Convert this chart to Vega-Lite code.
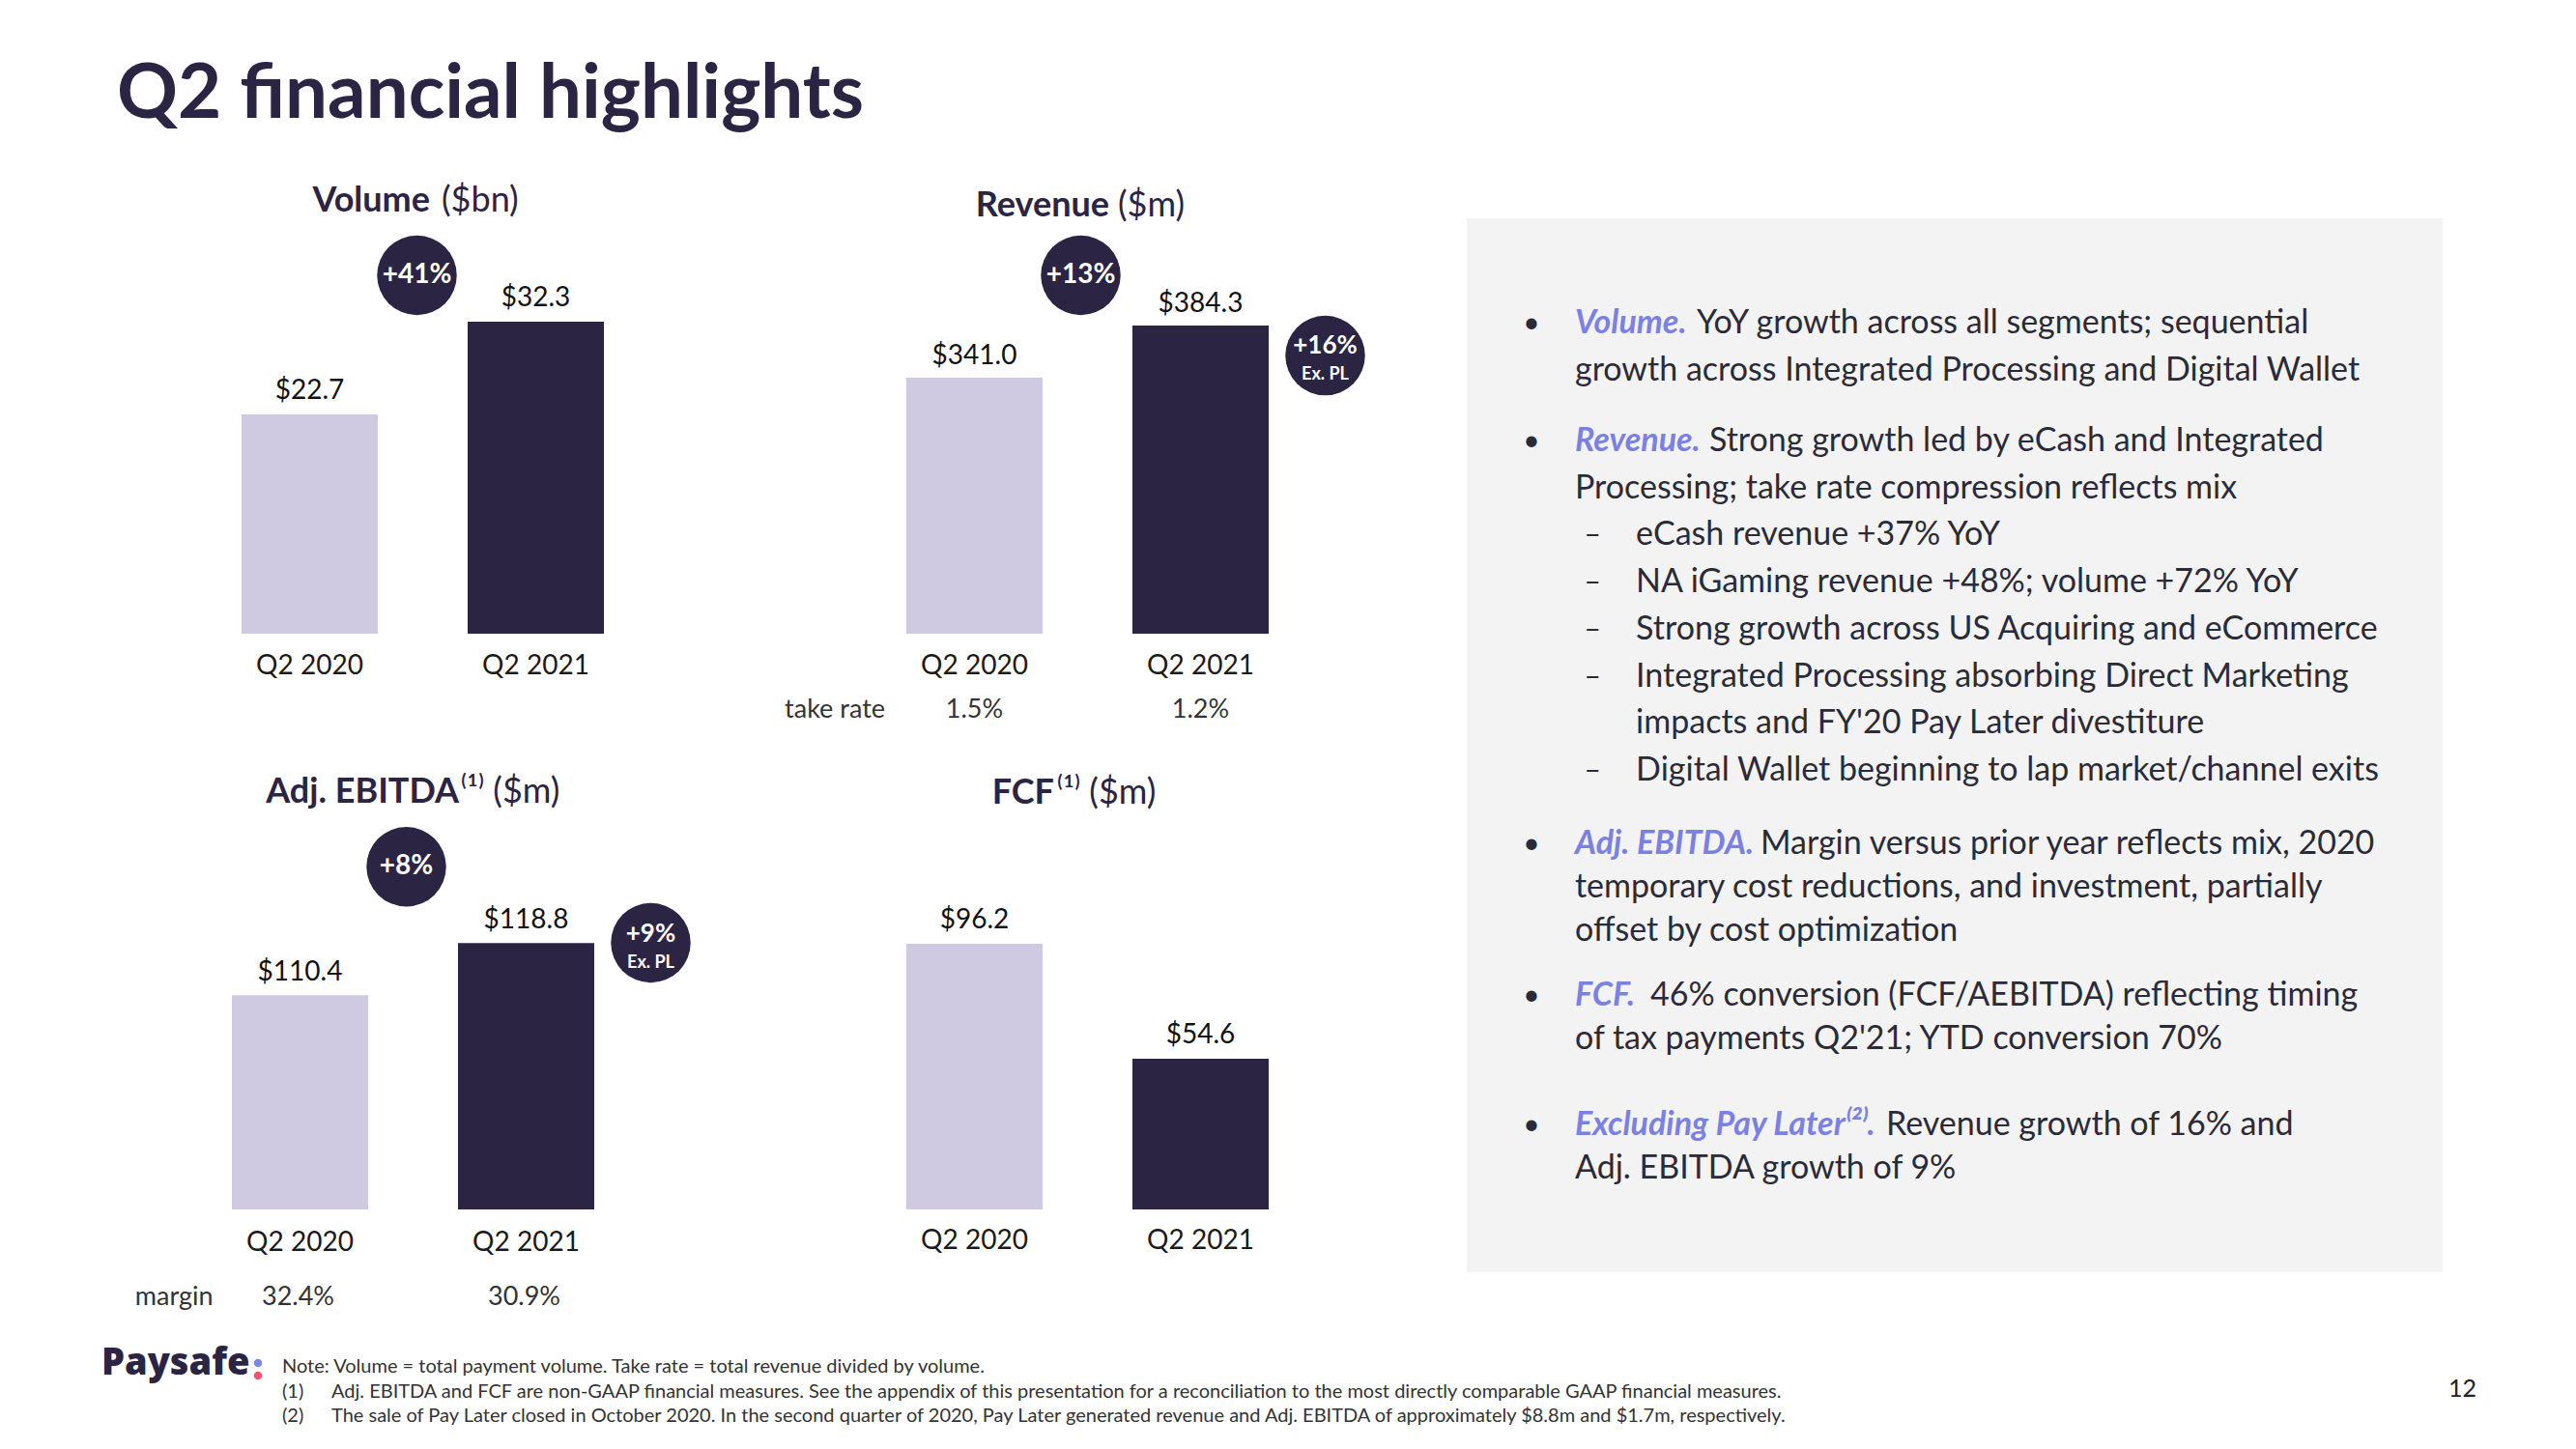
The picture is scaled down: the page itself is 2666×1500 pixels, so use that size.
{
  "$schema": "https://vega.github.io/schema/vega-lite/v6.json",
  "background": "white",
  "padding": {"left": 105, "top": 60, "right": 0, "bottom": 0},
  "autosize": {"type": "pad"},
  "config": {
    "font": "Lato",
    "view": {"stroke": null},
    "text": {"font": "Lato"},
    "axis": {"labelFont": "Lato"}
  },
  "datasets": {
    "bars": [
      {"metric": "Volume", "period": "Q2 2020", "value": 22.7, "label": "$22.7"},
      {"metric": "Volume", "period": "Q2 2021", "value": 32.3, "label": "$32.3"},
      {"metric": "Revenue", "period": "Q2 2020", "value": 341.0, "label": "$341.0"},
      {"metric": "Revenue", "period": "Q2 2021", "value": 384.3, "label": "$384.3"},
      {"metric": "Adj. EBITDA", "period": "Q2 2020", "value": 110.4, "label": "$110.4"},
      {"metric": "Adj. EBITDA", "period": "Q2 2021", "value": 118.8, "label": "$118.8"},
      {"metric": "FCF", "period": "Q2 2020", "value": 96.2, "label": "$96.2"},
      {"metric": "FCF", "period": "Q2 2021", "value": 54.6, "label": "$54.6"}
    ],
    "growth": [
      {"metric": "Volume", "period": "YoY", "pct": "+41%", "note": ""},
      {"metric": "Revenue", "period": "YoY", "pct": "+13%", "note": ""},
      {"metric": "Revenue", "period": "Ex. PL", "pct": "+16%", "note": "Ex. PL"},
      {"metric": "Adj. EBITDA", "period": "YoY", "pct": "+8%", "note": ""},
      {"metric": "Adj. EBITDA", "period": "Ex. PL", "pct": "+9%", "note": "Ex. PL"}
    ],
    "ratios": [
      {"metric": "Revenue", "period": "Q2 2020", "text": "1.5%"},
      {"metric": "Revenue", "period": "Q2 2021", "text": "1.2%"},
      {"metric": "Adj. EBITDA", "period": "Q2 2020", "text": "32.4%"},
      {"metric": "Adj. EBITDA", "period": "Q2 2021", "text": "30.9%"}
    ],
    "ratioNames": [
      {"metric": "Revenue", "period": "Q2 2020", "name": "take rate"},
      {"metric": "Adj. EBITDA", "period": "Q2 2020", "name": "margin"}
    ],
    "titles": [
      {"metric": "Volume", "period": "YoY", "name": "Volume", "unit": "($bn)"},
      {"metric": "Revenue", "period": "YoY", "name": "Revenue", "unit": "($m)"},
      {"metric": "Adj. EBITDA", "period": "YoY", "name": "Adj. EBITDA", "unit": "⁽¹⁾ ($m)"},
      {"metric": "FCF", "period": "YoY", "name": "FCF", "unit": "⁽¹⁾ ($m)"}
    ],
    "slide": [
      {"title": "Q2 financial highlights", "brand": "Paysafe", "page": "12"}
    ],
    "panel": [
      {"part": "top", "line": "v1", "level": "L1", "bullet": "•", "lead": "Volume.", "text": "YoY growth across all segments; sequential"},
      {"part": "top", "line": "v2", "level": "L1", "bullet": "", "lead": "", "text": "growth across Integrated Processing and Digital Wallet"},
      {"part": "top", "line": "r1", "level": "L1", "bullet": "•", "lead": "Revenue.", "text": "Strong growth led by eCash and Integrated"},
      {"part": "top", "line": "r2", "level": "L1", "bullet": "", "lead": "", "text": "Processing; take rate compression reflects mix"},
      {"part": "top", "line": "s1", "level": "L2", "bullet": "–", "lead": "", "text": "eCash revenue +37% YoY"},
      {"part": "top", "line": "s2", "level": "L2", "bullet": "–", "lead": "", "text": "NA iGaming revenue +48%; volume +72% YoY"},
      {"part": "top", "line": "s3", "level": "L2", "bullet": "–", "lead": "", "text": "Strong growth across US Acquiring and eCommerce"},
      {"part": "top", "line": "s4", "level": "L2", "bullet": "–", "lead": "", "text": "Integrated Processing absorbing Direct Marketing"},
      {"part": "top", "line": "s4b", "level": "L2", "bullet": "", "lead": "", "text": "impacts and FY'20 Pay Later divestiture"},
      {"part": "top", "line": "s5", "level": "L2", "bullet": "–", "lead": "", "text": "Digital Wallet beginning to lap market/channel exits"},
      {"part": "bottom", "line": "a1", "level": "L1", "bullet": "•", "lead": "Adj. EBITDA.", "text": "Margin versus prior year reflects mix, 2020"},
      {"part": "bottom", "line": "a2", "level": "L1", "bullet": "", "lead": "", "text": "temporary cost reductions, and investment, partially"},
      {"part": "bottom", "line": "a3", "level": "L1", "bullet": "", "lead": "", "text": "offset by cost optimization"},
      {"part": "bottom", "line": "f1", "level": "L1", "bullet": "•", "lead": "FCF.", "text": "46% conversion (FCF/AEBITDA) reflecting timing"},
      {"part": "bottom", "line": "f2", "level": "L1", "bullet": "", "lead": "", "text": "of tax payments Q2'21;  YTD conversion 70%"},
      {"part": "bottom", "line": "e1", "level": "L1", "bullet": "•", "lead": "Excluding Pay Later⁽²⁾.", "text": "Revenue growth of 16% and"},
      {"part": "bottom", "line": "e2", "level": "L1", "bullet": "", "lead": "", "text": "Adj. EBITDA growth of 9%"}
    ],
    "footnotes": [
      {"line": "note", "col": "marker", "text": "Note: Volume = total payment volume. Take rate = total revenue divided by volume."},
      {"line": "f1", "col": "marker", "text": "(1)"},
      {"line": "f1", "col": "text", "text": "Adj. EBITDA and FCF are non-GAAP financial measures.  See the appendix of this presentation for a reconciliation to the most directly comparable GAAP financial measures."},
      {"line": "f2", "col": "marker", "text": "(2)"},
      {"line": "f2", "col": "text", "text": "The sale of Pay Later closed in October 2020. In the second quarter of 2020, Pay Later generated revenue and Adj. EBITDA of approximately $8.8m and $1.7m, respectively."}
    ]
  },
  "columns": 3,
  "spacing": {"row": 0, "column": 100},
  "bounds": "flush",
  "align": "each",
  "concat": [
    {
      "width": 468, "height": 430,
      "encoding": {
        "x": {"field": "period", "type": "nominal",
          "scale": {"domain": ["Q2 2020", "YoY", "Q2 2021", "Ex. PL"], "paddingInner": 0, "paddingOuter": 0},
          "axis": {"values": ["Q2 2020", "Q2 2021"], "title": null, "labelAngle": 0, "labelFontSize": 28, "labelColor": "#1a1a1a", "labelPadding": 33, "labelOffset": 6, "labelBaseline": "middle", "domain": false, "ticks": false, "tickSize": 0, "grid": false}}
      },
      "layer": [
        {"data": {"name": "bars"}, "transform": [{"filter": "datum.metric === 'Volume'"}],
          "mark": {"type": "bar", "width": 141, "xOffset": 6},
          "encoding": {
            "y": {"field": "value", "type": "quantitative", "scale": {"domain": [0, 43], "nice": false, "zero": false}, "axis": null},
            "y2": {"datum": 0},
            "color": {"field": "period", "type": "nominal", "scale": {"domain": ["Q2 2020", "Q2 2021"], "range": ["#cfc9e1", "#2b2442"]}, "legend": null}}},
        {"data": {"name": "bars"}, "transform": [{"filter": "datum.metric === 'Volume'"}],
          "mark": {"type": "text", "dx": 6, "dy": -24, "baseline": "middle", "fontSize": 28, "color": "#111111"},
          "encoding": {
            "y": {"field": "value", "type": "quantitative", "scale": {"domain": [0, 43], "nice": false, "zero": false}, "axis": null},
            "text": {"field": "label"}}},
        {"data": {"name": "growth"}, "transform": [{"filter": "datum.metric === 'Volume' && datum.period === 'YoY'"}],
          "mark": {"type": "point", "shape": "circle", "filled": true, "size": 6800, "opacity": 1, "color": "#2b2442", "strokeWidth": 0},
          "encoding": {"y": {"datum": 37.1, "type": "quantitative", "scale": {"domain": [0, 43], "nice": false, "zero": false}, "axis": null}}},
        {"data": {"name": "growth"}, "transform": [{"filter": "datum.metric === 'Volume' && datum.period === 'YoY'"}],
          "mark": {"type": "text", "baseline": "middle", "fontSize": 28, "fontWeight": "bold", "color": "white"},
          "encoding": {"y": {"datum": 37.1, "type": "quantitative", "scale": {"domain": [0, 43], "nice": false, "zero": false}, "axis": null},
            "text": {"field": "pct"}}},
        {"data": {"name": "titles"}, "transform": [{"filter": "datum.metric === 'Volume'"}],
          "mark": {"type": "text", "align": "right", "baseline": "middle", "dx": 13.5, "fontSize": 36, "fontWeight": "bold", "color": "#2b2442"},
          "encoding": {"y": {"datum": 44.8, "type": "quantitative", "scale": {"domain": [0, 43], "nice": false, "zero": false}, "axis": null},
            "text": {"field": "name"}}},
        {"data": {"name": "titles"}, "transform": [{"filter": "datum.metric === 'Volume'"}],
          "mark": {"type": "text", "align": "left", "baseline": "middle", "dx": 25.5, "fontSize": 36, "color": "#2b2442"},
          "encoding": {"y": {"datum": 44.8, "type": "quantitative", "scale": {"domain": [0, 43], "nice": false, "zero": false}, "axis": null},
            "text": {"field": "unit"}}},
        {"data": {"name": "slide"},
          "mark": {"type": "text", "align": "left", "baseline": "alphabetic", "dx": -193.5, "fontSize": 78, "fontWeight": "bold", "color": "#2b2442"},
          "encoding": {
            "x": {"datum": "Q2 2020", "type": "nominal",
              "scale": {"domain": ["Q2 2020", "YoY", "Q2 2021", "Ex. PL"], "paddingInner": 0, "paddingOuter": 0},
              "axis": {"values": ["Q2 2020", "Q2 2021"], "title": null, "labelAngle": 0, "labelFontSize": 28, "labelColor": "#1a1a1a", "labelPadding": 33, "labelOffset": 6, "labelBaseline": "middle", "domain": false, "ticks": false, "tickSize": 0, "grid": false}},
            "y": {"datum": 53.4, "type": "quantitative", "scale": {"domain": [0, 43], "nice": false, "zero": false}, "axis": null},
            "text": {"field": "title"}}}
      ]
    },
    {
      "width": 468, "height": 430,
      "encoding": {
        "x": {"field": "period", "type": "nominal",
          "scale": {"domain": ["Q2 2020", "YoY", "Q2 2021", "Ex. PL"], "paddingInner": 0, "paddingOuter": 0},
          "axis": {"values": ["Q2 2020", "Q2 2021"], "title": null, "labelAngle": 0, "labelFontSize": 28, "labelColor": "#1a1a1a", "labelPadding": 33, "labelBaseline": "middle", "domain": false, "ticks": false, "tickSize": 0, "grid": false}}
      },
      "layer": [
        {"data": {"name": "bars"}, "transform": [{"filter": "datum.metric === 'Revenue'"}],
          "mark": {"type": "bar", "width": 141},
          "encoding": {
            "y": {"field": "value", "type": "quantitative", "scale": {"domain": [128.5, 473.3], "nice": false, "zero": false}, "axis": null},
            "y2": {"datum": 128.5},
            "color": {"field": "period", "type": "nominal", "scale": {"domain": ["Q2 2020", "Q2 2021"], "range": ["#cfc9e1", "#2b2442"]}, "legend": null}}},
        {"data": {"name": "bars"}, "transform": [{"filter": "datum.metric === 'Revenue'"}],
          "mark": {"type": "text", "dy": -22, "baseline": "middle", "fontSize": 28, "color": "#111111"},
          "encoding": {
            "y": {"field": "value", "type": "quantitative", "scale": {"domain": [128.5, 473.3], "nice": false, "zero": false}, "axis": null},
            "text": {"field": "label"}}},
        {"data": {"name": "growth"}, "transform": [{"filter": "datum.metric === 'Revenue' && datum.period === 'YoY'"}],
          "mark": {"type": "point", "shape": "circle", "filled": true, "size": 6800, "opacity": 1, "color": "#2b2442", "strokeWidth": 0, "xOffset": -7},
          "encoding": {"y": {"datum": 426.0, "type": "quantitative", "scale": {"domain": [128.5, 473.3], "nice": false, "zero": false}, "axis": null}}},
        {"data": {"name": "growth"}, "transform": [{"filter": "datum.metric === 'Revenue' && datum.period === 'YoY'"}],
          "mark": {"type": "text", "baseline": "middle", "dx": -7, "fontSize": 28, "fontWeight": "bold", "color": "white"},
          "encoding": {"y": {"datum": 426.0, "type": "quantitative", "scale": {"domain": [128.5, 473.3], "nice": false, "zero": false}, "axis": null},
            "text": {"field": "pct"}}},
        {"data": {"name": "growth"}, "transform": [{"filter": "datum.metric === 'Revenue' && datum.period === 'Ex. PL'"}],
          "mark": {"type": "point", "shape": "circle", "filled": true, "size": 6800, "opacity": 1, "color": "#2b2442", "strokeWidth": 0, "xOffset": 12},
          "encoding": {"y": {"datum": 359.4, "type": "quantitative", "scale": {"domain": [128.5, 473.3], "nice": false, "zero": false}, "axis": null}}},
        {"data": {"name": "growth"}, "transform": [{"filter": "datum.metric === 'Revenue' && datum.period === 'Ex. PL'"}],
          "mark": {"type": "text", "baseline": "middle", "dx": 12, "dy": -10, "fontSize": 26, "fontWeight": "bold", "color": "white"},
          "encoding": {"y": {"datum": 359.4, "type": "quantitative", "scale": {"domain": [128.5, 473.3], "nice": false, "zero": false}, "axis": null},
            "text": {"field": "pct"}}},
        {"data": {"name": "growth"}, "transform": [{"filter": "datum.metric === 'Revenue' && datum.period === 'Ex. PL'"}],
          "mark": {"type": "text", "baseline": "middle", "dx": 12, "dy": 20, "fontSize": 18, "fontWeight": "bold", "color": "white"},
          "encoding": {"y": {"datum": 359.4, "type": "quantitative", "scale": {"domain": [128.5, 473.3], "nice": false, "zero": false}, "axis": null},
            "text": {"field": "note"}}},
        {"data": {"name": "titles"}, "transform": [{"filter": "datum.metric === 'Revenue'"}],
          "mark": {"type": "text", "align": "right", "baseline": "middle", "dx": 22.5, "fontSize": 36, "fontWeight": "bold", "color": "#2b2442"},
          "encoding": {"y": {"datum": 483.7, "type": "quantitative", "scale": {"domain": [128.5, 473.3], "nice": false, "zero": false}, "axis": null},
            "text": {"field": "name"}}},
        {"data": {"name": "titles"}, "transform": [{"filter": "datum.metric === 'Revenue'"}],
          "mark": {"type": "text", "align": "left", "baseline": "middle", "dx": 31.5, "fontSize": 36, "color": "#2b2442"},
          "encoding": {"y": {"datum": 483.7, "type": "quantitative", "scale": {"domain": [128.5, 473.3], "nice": false, "zero": false}, "axis": null},
            "text": {"field": "unit"}}},
        {"data": {"name": "ratios"}, "transform": [{"filter": "datum.metric === 'Revenue'"}],
          "mark": {"type": "text", "baseline": "middle", "dy": 79, "fontSize": 27, "color": "#333333"},
          "encoding": {"y": {"datum": 128.5, "type": "quantitative", "scale": {"domain": [128.5, 473.3], "nice": false, "zero": false}, "axis": null},
            "text": {"field": "text"}}},
        {"data": {"name": "ratioNames"}, "transform": [{"filter": "datum.metric === 'Revenue'"}],
          "mark": {"type": "text", "align": "right", "baseline": "middle", "dx": -92.5, "dy": 79, "fontSize": 27, "color": "#333333"},
          "encoding": {"y": {"datum": 128.5, "type": "quantitative", "scale": {"domain": [128.5, 473.3], "nice": false, "zero": false}, "axis": null},
            "text": {"field": "name"}}}
      ]
    },
    {
      "width": 1010, "height": 616,
      "view": {"fill": "#f3f3f3", "stroke": null},
      "data": {"name": "panel"},
      "transform": [{"filter": "datum.part === 'top'"}],
      "encoding": {
        "x": {"field": "level", "type": "nominal", "scale": {"type": "point", "domain": ["in0", "L1", "L2", "in3", "in4", "in5", "in6", "in7", "in8", "in9", "in10", "in11", "in12", "in13", "in14"], "padding": 1, "align": 0.387, "round": false}, "axis": null},
        "y": {"field": "line", "type": "nominal", "scale": {"type": "point", "domain": ["pad1", "pad2", "pad3", "pad4", "v1", "gap1", "v2", "gap2", "gap3", "r1", "gap4", "r2", "gap5", "s1", "gap6", "s2", "gap7", "s3", "gap8", "s4", "gap9", "s4b", "gap10", "s5", "pad5"], "padding": 0.64, "align": 0.37, "round": false}, "axis": null}
      },
      "layer": [
        {"transform": [{"filter": "datum.bullet !== ''"}],
          "mark": {"type": "text", "align": "center", "baseline": "middle", "dx": -45, "fontSize": 30, "color": "#2b2b38"},
          "encoding": {"text": {"field": "bullet"}}},
        {"transform": [{"filter": "datum.lead === ''"}],
          "mark": {"type": "text", "align": "left", "baseline": "middle", "fontSize": 34, "color": "#2b2b38"},
          "encoding": {"text": {"field": "text"}}},
        {"transform": [{"filter": "datum.lead !== ''"}],
          "mark": {"type": "text", "align": "left", "baseline": "middle", "fontSize": 34, "fontStyle": "italic", "fontWeight": "bold", "color": "#7b81e3"},
          "encoding": {"text": {"field": "lead"}}},
        {"transform": [{"filter": "datum.line === 'v1'"}],
          "mark": {"type": "text", "align": "left", "baseline": "middle", "dx": 126, "fontSize": 34, "color": "#2b2b38"},
          "encoding": {"text": {"field": "text"}}},
        {"transform": [{"filter": "datum.line === 'r1'"}],
          "mark": {"type": "text", "align": "left", "baseline": "middle", "dx": 139, "fontSize": 34, "color": "#2b2b38"},
          "encoding": {"text": {"field": "text"}}}
      ]
    },
    {
      "width": 468, "height": 410,
      "encoding": {
        "x": {"field": "period", "type": "nominal",
          "scale": {"domain": ["Q2 2020", "YoY", "Q2 2021", "Ex. PL"], "paddingInner": 0, "paddingOuter": 0},
          "axis": {"values": ["Q2 2020", "Q2 2021"], "title": null, "labelAngle": 0, "labelFontSize": 28, "labelColor": "#1a1a1a", "labelPadding": 34, "labelOffset": -4, "labelBaseline": "middle", "domain": false, "ticks": false, "tickSize": 0, "grid": false}}
      },
      "layer": [
        {"data": {"name": "bars"}, "transform": [{"filter": "datum.metric === 'Adj. EBITDA'"}],
          "mark": {"type": "bar", "width": 141, "xOffset": -4},
          "encoding": {
            "y": {"field": "value", "type": "quantitative", "scale": {"domain": [75.9, 139.7], "nice": false, "zero": false}, "axis": null},
            "y2": {"datum": 75.9},
            "color": {"field": "period", "type": "nominal", "scale": {"domain": ["Q2 2020", "Q2 2021"], "range": ["#cfc9e1", "#2b2442"]}, "legend": null}}},
        {"data": {"name": "bars"}, "transform": [{"filter": "datum.metric === 'Adj. EBITDA'"}],
          "mark": {"type": "text", "dx": -4, "dy": -23, "baseline": "middle", "fontSize": 28, "color": "#111111"},
          "encoding": {
            "y": {"field": "value", "type": "quantitative", "scale": {"domain": [75.9, 139.7], "nice": false, "zero": false}, "axis": null},
            "text": {"field": "label"}}},
        {"data": {"name": "growth"}, "transform": [{"filter": "datum.metric === 'Adj. EBITDA' && datum.period === 'YoY'"}],
          "mark": {"type": "point", "shape": "circle", "filled": true, "size": 6800, "opacity": 1, "color": "#2b2442", "strokeWidth": 0, "xOffset": -11},
          "encoding": {"y": {"datum": 131.1, "type": "quantitative", "scale": {"domain": [75.9, 139.7], "nice": false, "zero": false}, "axis": null}}},
        {"data": {"name": "growth"}, "transform": [{"filter": "datum.metric === 'Adj. EBITDA' && datum.period === 'YoY'"}],
          "mark": {"type": "text", "baseline": "middle", "dx": -11, "fontSize": 28, "fontWeight": "bold", "color": "white"},
          "encoding": {"y": {"datum": 131.1, "type": "quantitative", "scale": {"domain": [75.9, 139.7], "nice": false, "zero": false}, "axis": null},
            "text": {"field": "pct"}}},
        {"data": {"name": "growth"}, "transform": [{"filter": "datum.metric === 'Adj. EBITDA' && datum.period === 'Ex. PL'"}],
          "mark": {"type": "point", "shape": "circle", "filled": true, "size": 6800, "opacity": 1, "color": "#2b2442", "strokeWidth": 0, "xOffset": 8},
          "encoding": {"y": {"datum": 118.85, "type": "quantitative", "scale": {"domain": [75.9, 139.7], "nice": false, "zero": false}, "axis": null}}},
        {"data": {"name": "growth"}, "transform": [{"filter": "datum.metric === 'Adj. EBITDA' && datum.period === 'Ex. PL'"}],
          "mark": {"type": "text", "baseline": "middle", "dx": 8, "dy": -9, "fontSize": 26, "fontWeight": "bold", "color": "white"},
          "encoding": {"y": {"datum": 118.85, "type": "quantitative", "scale": {"domain": [75.9, 139.7], "nice": false, "zero": false}, "axis": null},
            "text": {"field": "pct"}}},
        {"data": {"name": "growth"}, "transform": [{"filter": "datum.metric === 'Adj. EBITDA' && datum.period === 'Ex. PL'"}],
          "mark": {"type": "text", "baseline": "middle", "dx": 8, "dy": 21, "fontSize": 18, "fontWeight": "bold", "color": "white"},
          "encoding": {"y": {"datum": 118.85, "type": "quantitative", "scale": {"domain": [75.9, 139.7], "nice": false, "zero": false}, "axis": null},
            "text": {"field": "note"}}},
        {"data": {"name": "titles"}, "transform": [{"filter": "datum.metric === 'Adj. EBITDA'"}],
          "mark": {"type": "text", "align": "right", "baseline": "middle", "dx": 43.5, "fontSize": 36, "fontWeight": "bold", "color": "#2b2442"},
          "encoding": {"y": {"datum": 143.1, "type": "quantitative", "scale": {"domain": [75.9, 139.7], "nice": false, "zero": false}, "axis": null},
            "text": {"field": "name"}}},
        {"data": {"name": "titles"}, "transform": [{"filter": "datum.metric === 'Adj. EBITDA'"}],
          "mark": {"type": "text", "align": "left", "baseline": "middle", "dx": 45.5, "fontSize": 36, "color": "#2b2442"},
          "encoding": {"y": {"datum": 143.1, "type": "quantitative", "scale": {"domain": [75.9, 139.7], "nice": false, "zero": false}, "axis": null},
            "text": {"field": "unit"}}},
        {"data": {"name": "ratios"}, "transform": [{"filter": "datum.metric === 'Adj. EBITDA'"}],
          "mark": {"type": "text", "baseline": "middle", "dx": -6, "dy": 91, "fontSize": 27, "color": "#333333"},
          "encoding": {"y": {"datum": 75.9, "type": "quantitative", "scale": {"domain": [75.9, 139.7], "nice": false, "zero": false}, "axis": null},
            "text": {"field": "text"}}},
        {"data": {"name": "ratioNames"}, "transform": [{"filter": "datum.metric === 'Adj. EBITDA'"}],
          "mark": {"type": "text", "align": "right", "baseline": "middle", "dx": -94, "dy": 91, "fontSize": 27, "color": "#333333"},
          "encoding": {"y": {"datum": 75.9, "type": "quantitative", "scale": {"domain": [75.9, 139.7], "nice": false, "zero": false}, "axis": null},
            "text": {"field": "name"}}}
      ]
    },
    {
      "width": 468, "height": 410,
      "encoding": {
        "x": {"field": "period", "type": "nominal",
          "scale": {"domain": ["Q2 2020", "YoY", "Q2 2021", "Ex. PL"], "paddingInner": 0, "paddingOuter": 0},
          "axis": {"values": ["Q2 2020", "Q2 2021"], "title": null, "labelAngle": 0, "labelFontSize": 28, "labelColor": "#1a1a1a", "labelPadding": 32, "labelBaseline": "middle", "domain": false, "ticks": false, "tickSize": 0, "grid": false}}
      },
      "layer": [
        {"data": {"name": "bars"}, "transform": [{"filter": "datum.metric === 'FCF'"}],
          "mark": {"type": "bar", "width": 141},
          "encoding": {
            "y": {"field": "value", "type": "quantitative", "scale": {"domain": [0, 143.4], "nice": false, "zero": false}, "axis": null},
            "y2": {"datum": 0},
            "color": {"field": "period", "type": "nominal", "scale": {"domain": ["Q2 2020", "Q2 2021"], "range": ["#cfc9e1", "#2b2442"]}, "legend": null}}},
        {"data": {"name": "bars"}, "transform": [{"filter": "datum.metric === 'FCF'"}],
          "mark": {"type": "text", "dy": -24, "baseline": "middle", "fontSize": 28, "color": "#111111"},
          "encoding": {
            "y": {"field": "value", "type": "quantitative", "scale": {"domain": [0, 143.4], "nice": false, "zero": false}, "axis": null},
            "text": {"field": "label"}}},
        {"data": {"name": "titles"}, "transform": [{"filter": "datum.metric === 'FCF'"}],
          "mark": {"type": "text", "align": "right", "baseline": "middle", "dx": -34.5, "fontSize": 36, "fontWeight": "bold", "color": "#2b2442"},
          "encoding": {"y": {"datum": 150.7, "type": "quantitative", "scale": {"domain": [0, 143.4], "nice": false, "zero": false}, "axis": null},
            "text": {"field": "name"}}},
        {"data": {"name": "titles"}, "transform": [{"filter": "datum.metric === 'FCF'"}],
          "mark": {"type": "text", "align": "left", "baseline": "middle", "dx": -31.5, "fontSize": 36, "color": "#2b2442"},
          "encoding": {"y": {"datum": 150.7, "type": "quantitative", "scale": {"domain": [0, 143.4], "nice": false, "zero": false}, "axis": null},
            "text": {"field": "unit"}}}
      ]
    },
    {
      "width": 1010, "height": 475,
      "view": {"fill": "#f3f3f3", "stroke": null},
      "data": {"name": "panel"},
      "transform": [{"filter": "datum.part === 'bottom'"}],
      "encoding": {
        "x": {"field": "level", "type": "nominal", "scale": {"type": "point", "domain": ["in0", "L1", "L2", "in3", "in4", "in5", "in6", "in7", "in8", "in9", "in10", "in11", "in12", "in13", "in14"], "padding": 1, "align": 0.387, "round": false}, "axis": null},
        "y": {"field": "line", "type": "nominal", "scale": {"type": "point", "domain": ["pad1", "a1", "gap1", "a2", "gap2", "a3", "gap3", "gap4", "f1", "gap5", "f2", "gap6", "gap7", "gap8", "e1", "gap9", "e2", "pad2", "pad3", "pad4", "pad5"], "padding": 0.6027, "align": 0.356, "round": false}, "axis": null}
      },
      "layer": [
        {"transform": [{"filter": "datum.bullet !== ''"}],
          "mark": {"type": "text", "align": "center", "baseline": "middle", "dx": -45, "fontSize": 30, "color": "#2b2b38"},
          "encoding": {"text": {"field": "bullet"}}},
        {"transform": [{"filter": "datum.lead === ''"}],
          "mark": {"type": "text", "align": "left", "baseline": "middle", "fontSize": 34, "color": "#2b2b38"},
          "encoding": {"text": {"field": "text"}}},
        {"transform": [{"filter": "datum.lead !== ''"}],
          "mark": {"type": "text", "align": "left", "baseline": "middle", "fontSize": 34, "fontStyle": "italic", "fontWeight": "bold", "color": "#7b81e3"},
          "encoding": {"text": {"field": "lead"}}},
        {"transform": [{"filter": "datum.line === 'a1'"}],
          "mark": {"type": "text", "align": "left", "baseline": "middle", "dx": 192, "fontSize": 34, "color": "#2b2b38"},
          "encoding": {"text": {"field": "text"}}},
        {"transform": [{"filter": "datum.line === 'f1'"}],
          "mark": {"type": "text", "align": "left", "baseline": "middle", "dx": 78, "fontSize": 34, "color": "#2b2b38"},
          "encoding": {"text": {"field": "text"}}},
        {"transform": [{"filter": "datum.line === 'e1'"}],
          "mark": {"type": "text", "align": "left", "baseline": "middle", "dx": 322, "fontSize": 34, "color": "#2b2b38"},
          "encoding": {"text": {"field": "text"}}}
      ]
    },
    {
      "width": 594, "height": 160,
      "layer": [
        {"data": {"name": "footnotes"},
          "mark": {"type": "text", "align": "left", "baseline": "middle", "fontSize": 20, "color": "#333333"},
          "encoding": {
            "x": {"field": "col", "type": "nominal", "scale": {"type": "point", "domain": ["marker", "text", "c2", "c3", "c4", "c5", "c6", "c7", "c8", "c9", "c10"], "padding": 0.8235, "align": 0.4286, "round": false}, "axis": null},
            "y": {"field": "line", "type": "nominal", "scale": {"type": "point", "domain": ["r1", "r2", "r3", "note", "f1", "f2"], "padding": 0.637, "align": 0.664, "round": false}, "axis": null},
            "text": {"field": "text"}}},
        {"data": {"name": "slide"},
          "mark": {"type": "text", "align": "left", "baseline": "middle", "dx": -187, "dy": -3, "font": "Open Sans", "fontWeight": 800, "fontSize": 38, "color": "#2b2442"},
          "encoding": {
            "x": {"datum": "marker", "type": "nominal", "scale": {"type": "point", "domain": ["marker", "text", "c2", "c3", "c4", "c5", "c6", "c7", "c8", "c9", "c10"], "padding": 0.8235, "align": 0.4286, "round": false}, "axis": null},
            "y": {"datum": "note", "type": "nominal", "scale": {"type": "point", "domain": ["r1", "r2", "r3", "note", "f1", "f2"], "padding": 0.637, "align": 0.664, "round": false}, "axis": null},
            "text": {"field": "brand"}}},
        {"data": {"name": "slide"},
          "mark": {"type": "point", "shape": "circle", "filled": true, "size": 72, "opacity": 1, "color": "#7d87e8", "strokeWidth": 0, "xOffset": -25, "yOffset": -4},
          "encoding": {
            "x": {"datum": "marker", "type": "nominal", "scale": {"type": "point", "domain": ["marker", "text", "c2", "c3", "c4", "c5", "c6", "c7", "c8", "c9", "c10"], "padding": 0.8235, "align": 0.4286, "round": false}, "axis": null},
            "y": {"datum": "note", "type": "nominal", "scale": {"type": "point", "domain": ["r1", "r2", "r3", "note", "f1", "f2"], "padding": 0.637, "align": 0.664, "round": false}, "axis": null}}},
        {"data": {"name": "slide"},
          "mark": {"type": "point", "shape": "circle", "filled": true, "size": 72, "opacity": 1, "color": "#f2546e", "strokeWidth": 0, "xOffset": -25, "yOffset": 9},
          "encoding": {
            "x": {"datum": "marker", "type": "nominal", "scale": {"type": "point", "domain": ["marker", "text", "c2", "c3", "c4", "c5", "c6", "c7", "c8", "c9", "c10"], "padding": 0.8235, "align": 0.4286, "round": false}, "axis": null},
            "y": {"datum": "note", "type": "nominal", "scale": {"type": "point", "domain": ["r1", "r2", "r3", "note", "f1", "f2"], "padding": 0.637, "align": 0.664, "round": false}, "axis": null}}},
        {"data": {"name": "slide"},
          "mark": {"type": "text", "align": "right", "baseline": "middle", "dx": 2220, "dy": -3, "fontSize": 25, "color": "#222222"},
          "encoding": {
            "x": {"datum": "text", "type": "nominal", "scale": {"type": "point", "domain": ["marker", "text", "c2", "c3", "c4", "c5", "c6", "c7", "c8", "c9", "c10"], "padding": 0.8235, "align": 0.4286, "round": false}, "axis": null},
            "y": {"datum": "f1", "type": "nominal", "scale": {"type": "point", "domain": ["r1", "r2", "r3", "note", "f1", "f2"], "padding": 0.637, "align": 0.664, "round": false}, "axis": null},
            "text": {"field": "page"}}}
      ]
    }
  ]
}
